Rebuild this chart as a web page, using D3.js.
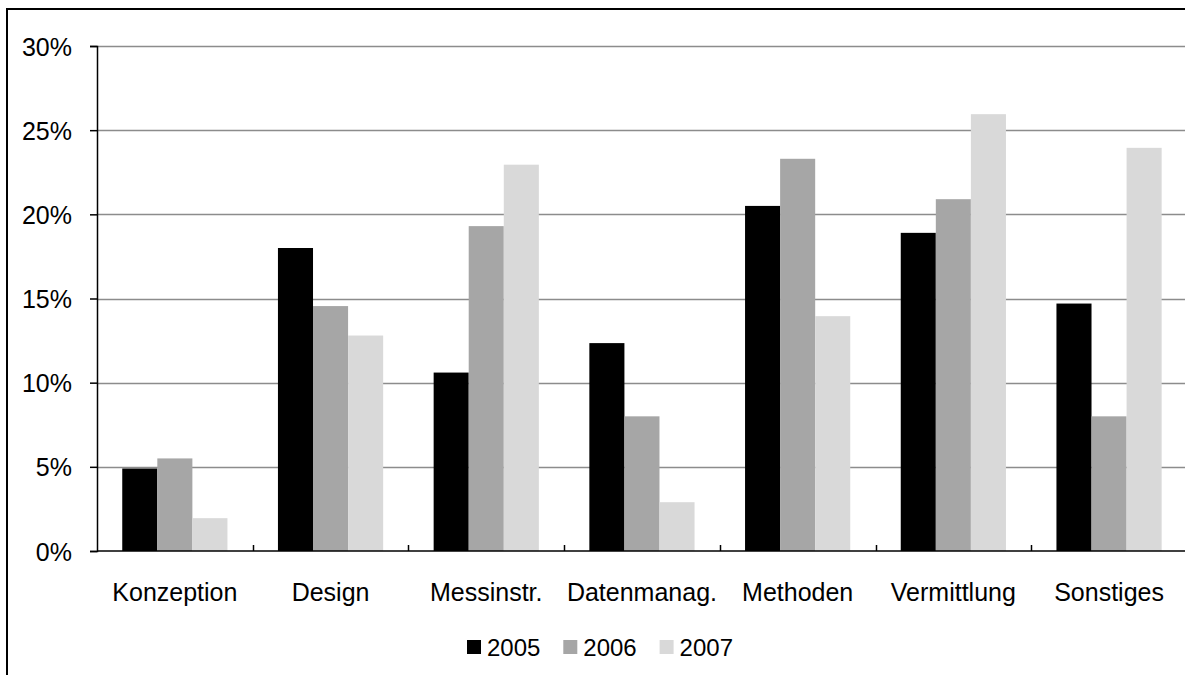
<!DOCTYPE html>
<html>
<head>
<meta charset="utf-8">
<script src="https://cdn.jsdelivr.net/npm/d3@7"></script>
<style>
  body { margin: 0; background: #fff; }
  text { font-family: "Liberation Sans", Arial, sans-serif; fill: #000; }
</style>
</head>
<body>
<div id="chart"></div>
<script>
// data
var categories = ["Konzeption", "Design", "Messinstr.", "Datenmanag.", "Methoden", "Vermittlung", "Sonstiges"];
var years = ["2005", "2006", "2007"];
var values2005 = [4.9, 18.0, 10.6, 12.35, 20.5, 18.9, 14.7];
var values2006 = [5.5, 14.55, 19.3, 8.0, 23.3, 20.9, 8.0];
var values2007 = [1.95, 12.8, 22.95, 2.9, 13.95, 25.95, 23.95];
var yTicks = [0, 5, 10, 15, 20, 25, 30];

var series = { "2005": values2005, "2006": values2006, "2007": values2007 };

var width = 1185, height = 675;
var margin = { top: 46, left: 97, bottom: 551 };

var svg = d3.select("#chart")
  .append("svg")
  .attr("width", width)
  .attr("height", height);

// outer frame (runs off the right and bottom edge)
svg.append("rect")
  .attr("x", 7)
  .attr("y", 9)
  .attr("width", 1400)
  .attr("height", 1000)
  .attr("fill", "none")
  .attr("stroke", "#000")
  .attr("stroke-width", 2);

var x0 = d3.scaleBand()
  .domain(categories)
  .range([margin.left, margin.left + 7 * 155.7]);

var x1 = d3.scaleBand()
  .domain(years)
  .range([0, x0.bandwidth()])
  .paddingOuter(0.72);

var y = d3.scaleLinear()
  .domain([0, 30])
  .range([margin.bottom, margin.top]);

var color = d3.scaleOrdinal()
  .domain(years)
  .range(["#000000", "#a6a6a6", "#d9d9d9"]);

// gridlines
svg.append("g")
  .selectAll("line")
  .data(yTicks.filter(d => d > 0))
  .enter()
  .append("line")
  .attr("x1", margin.left)
  .attr("x2", width)
  .attr("y1", d => Math.round(y(d)) + 0.5)
  .attr("y2", d => Math.round(y(d)) + 0.5)
  .attr("stroke", "#8c8c8c")
  .attr("stroke-width", 1.5);

// bars
svg.append("g")
  .selectAll("g")
  .data(categories)
  .enter()
  .append("g")
  .attr("transform", d => "translate(" + x0(d) + ",0)")
  .selectAll("rect")
  .data((c, i) => years.map(yr => ({ year: yr, value: series[yr][i] })))
  .enter()
  .append("rect")
  .attr("x", d => x1(d.year))
  .attr("width", x1.bandwidth())
  .attr("y", d => y(d.value))
  .attr("height", d => y(0) - y(d.value))
  .attr("fill", d => color(d.year));

// y axis
var yAxis = svg.append("g")
  .attr("transform", "translate(" + margin.left + ",0)")
  .call(d3.axisLeft(y).tickValues(yTicks).tickSize(7).tickPadding(18).tickFormat(d => d + "%"));
yAxis.select(".domain").attr("stroke", "#000").attr("stroke-width", 1.5);
yAxis.selectAll(".tick line").attr("stroke", "#000").attr("stroke-width", 1.5);
yAxis.selectAll("text")
  .style("font-size", "25px")
  .attr("dy", "0.36em");

// x axis
var xAxis = svg.append("g")
  .attr("transform", "translate(0," + margin.bottom + ")")
  .call(d3.axisBottom(x0).tickSize(0).tickPadding(32));
xAxis.select(".domain").attr("d", "M" + margin.left + ",0H" + (width + 5)).attr("stroke", "#000").attr("stroke-width", 1.5);
xAxis.selectAll("text").style("font-size", "25px");

// small category boundary ticks
xAxis.append("g")
  .selectAll("line")
  .data(categories.slice(1))
  .enter()
  .append("line")
  .attr("x1", d => Math.round(x0(d)) + 0.5)
  .attr("x2", d => Math.round(x0(d)) + 0.5)
  .attr("y1", 0)
  .attr("y2", -6)
  .attr("stroke", "#000")
  .attr("stroke-width", 1.5);

// legend
var legend = svg.append("g")
  .attr("transform", "translate(467,640)");

var item = legend.selectAll("g")
  .data(years)
  .enter()
  .append("g")
  .attr("transform", (d, i) => "translate(" + (i * 96.3) + ",0)");

item.append("rect")
  .attr("width", 14)
  .attr("height", 14)
  .attr("fill", d => color(d));

item.append("text")
  .attr("x", 20)
  .attr("y", 15.5)
  .style("font-size", "24px")
  .text(d => d);
</script>
</body>
</html>
